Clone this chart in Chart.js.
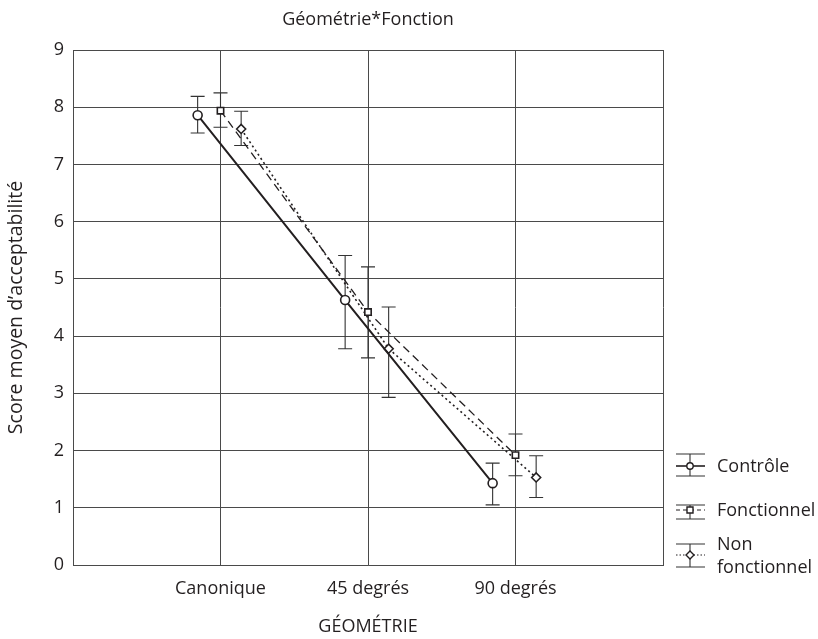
<!DOCTYPE html>
<html>
<head>
<meta charset="utf-8">
<script src="https://cdn.jsdelivr.net/npm/chart.js@4/dist/chart.umd.min.js"></script>
<style>
  html, body { margin: 0; padding: 0; background: #fff; }
  #wrap { width: 818px; height: 639px; }
</style>
</head>
<body>
<div id="wrap"><canvas id="c" width="818" height="639"></canvas></div>
<script>
// Catégories de géométrie et scores moyens (avec bornes des barres d'erreur)
const categories = ['Canonique', '45 degrés', '90 degrés'];
const seriesNames = ['Contrôle', 'Fonctionnel', 'Non fonctionnel'];

const controle = [7.86, 4.63, 1.43];
const controleHaut = [8.19, 5.41, 1.78];
const controleBas = [7.55, 3.78, 1.05];

const fonctionnel = [7.94, 4.42, 1.92];
const fonctionnelHaut = [8.25, 5.21, 2.29];
const fonctionnelBas = [7.65, 3.62, 1.56];

const nonFonctionnel = [7.62, 3.78, 1.53];
const nonFonctionnelHaut = [7.93, 4.51, 1.91];
const nonFonctionnelBas = [7.33, 2.93, 1.18];

const yTicks = [0, 1, 2, 3, 4, 5, 6, 7, 8, 9];

// Décalage horizontal de chaque série autour de sa catégorie
const shifts = [-0.155, 0, 0.14];

const INK = '#231f20';
const GRID = '#4a4a4a';
const FONT = '"Open Sans", "Noto Sans", sans-serif';
const FS = 18;

function pts(values, shift) {
  return values.map((v, i) => ({ x: i + 1 + shift, y: v }));
}

const errors = [
  { hi: controleHaut, lo: controleBas },
  { hi: fonctionnelHaut, lo: fonctionnelBas },
  { hi: nonFonctionnelHaut, lo: nonFonctionnelBas }
];

const styles = [
  { dash: [], width: 2, point: 'circle', radius: 4.5 },
  { dash: [8, 5], width: 1.3, point: 'rect', radius: 4.5 },
  { dash: [2, 3], width: 1.6, point: 'rectRot', radius: 4.5 }
];

const values = [controle, fonctionnel, nonFonctionnel];

const datasets = values.map((vals, k) => ({
  label: seriesNames[k],
  data: pts(vals, shifts[k]),
  borderColor: INK,
  borderWidth: styles[k].width,
  borderDash: styles[k].dash,
  pointStyle: styles[k].point,
  pointRadius: styles[k].radius,
  pointBackgroundColor: '#fff',
  pointBorderColor: INK,
  pointBorderWidth: 1.6,
  showLine: true,
  fill: false,
  tension: 0
}));

// Barres d'erreur, sous les points
const errorBars = {
  id: 'errorBars',
  beforeDatasetsDraw(chart) {
    const { ctx, scales: { x, y } } = chart;
    ctx.save();
    ctx.strokeStyle = '#333';
    ctx.lineWidth = 1.1;
    ctx.setLineDash([]);
    errors.forEach((e, k) => {
      e.hi.forEach((hi, i) => {
        const px = x.getPixelForValue(i + 1 + shifts[k]);
        const pHi = y.getPixelForValue(hi);
        const pLo = y.getPixelForValue(e.lo[i]);
        const cap = 7;
        ctx.beginPath();
        ctx.moveTo(px, pHi); ctx.lineTo(px, pLo);
        ctx.moveTo(px - cap, pHi); ctx.lineTo(px + cap, pHi);
        ctx.moveTo(px - cap, pLo); ctx.lineTo(px + cap, pLo);
        ctx.stroke();
      });
    });
    ctx.restore();
  }
};

// Titre centré sur la zone de tracé et légende à droite
const extras = {
  id: 'extras',
  afterDraw(chart) {
    const { ctx, chartArea } = chart;
    ctx.save();
    ctx.fillStyle = INK;
    ctx.font = FS + 'px ' + FONT;
    ctx.textAlign = 'center';
    ctx.textBaseline = 'middle';
    ctx.fillText('Géométrie*Fonction', (chartArea.left + chartArea.right) / 2, 20);

    const items = [
      { top: 454, mid: 466, bot: 476, lines: ['Contrôle'] },
      { top: 505, mid: 510, bot: 519, lines: ['Fonctionnel'] },
      { top: 544, mid: 555, bot: 567, lines: ['Non', 'fonctionnel'] }
    ];
    const x0 = 676, x1 = 705, xc = 690;
    items.forEach((it, k) => {
      ctx.strokeStyle = '#333';
      ctx.lineWidth = 1.1;
      ctx.setLineDash([]);
      ctx.beginPath();
      ctx.moveTo(x0, it.top); ctx.lineTo(x1, it.top);
      ctx.moveTo(x0, it.bot); ctx.lineTo(x1, it.bot);
      ctx.moveTo(xc, it.top); ctx.lineTo(xc, it.bot);
      ctx.stroke();
      ctx.strokeStyle = INK;
      ctx.lineWidth = k === 0 ? 1.6 : 1.2;
      ctx.setLineDash(k === 1 ? [4, 3] : k === 2 ? [1.5, 2] : []);
      ctx.beginPath();
      ctx.moveTo(x0, it.mid); ctx.lineTo(x1, it.mid);
      ctx.stroke();
      ctx.setLineDash([]);
      ctx.fillStyle = '#fff';
      ctx.strokeStyle = INK;
      ctx.lineWidth = 1.4;
      ctx.beginPath();
      if (k === 0) {
        ctx.arc(xc, it.mid, 3.2, 0, Math.PI * 2);
      } else if (k === 1) {
        ctx.rect(xc - 3, it.mid - 3, 6, 6);
      } else {
        ctx.moveTo(xc, it.mid - 4); ctx.lineTo(xc + 4, it.mid);
        ctx.lineTo(xc, it.mid + 4); ctx.lineTo(xc - 4, it.mid);
        ctx.closePath();
      }
      ctx.fill();
      ctx.stroke();
      ctx.fillStyle = INK;
      ctx.font = FS + 'px ' + FONT;
      ctx.textAlign = 'left';
      ctx.textBaseline = 'middle';
      if (it.lines.length === 1) {
        ctx.fillText(it.lines[0], 717, it.mid + 1);
      } else {
        ctx.fillText(it.lines[0], 717, 545);
        ctx.fillText(it.lines[1], 717, 568);
      }
    });
    ctx.restore();
  }
};

new Chart(document.getElementById('c'), {
  type: 'scatter',
  data: { datasets },
  options: {
    responsive: false,
    animation: false,
    layout: { padding: { top: 50, right: 155, left: 0, bottom: 0 } },
    plugins: { legend: { display: false }, tooltip: { enabled: false }, title: { display: false } },
    scales: {
      x: {
        type: 'linear',
        min: 0, max: 4,
        afterFit(s) { s.height = 74; },
        afterBuildTicks(s) { s.ticks = [0, 1, 2, 3, 4].map(v => ({ value: v })); },
        ticks: {
          color: INK,
          font: { size: FS, family: FONT },
          padding: 13,
          maxRotation: 0,
          callback: v => categories[v - 1] || ''
        },
        grid: { color: GRID, lineWidth: 1, drawTicks: false },
        border: { color: GRID, width: 1 },
        title: { display: true, text: 'GÉOMÉTRIE', color: INK, font: { size: FS, family: FONT }, padding: { top: 4, bottom: 1 } }
      },
      y: {
        min: 0, max: 9,
        afterFit(s) { s.width = 73; },
        afterBuildTicks(s) { s.ticks = yTicks.map(v => ({ value: v })); },
        ticks: { color: INK, font: { size: FS, family: FONT }, padding: 9 },
        grid: { color: GRID, lineWidth: 1, drawTicks: false },
        border: { color: GRID, width: 1 },
        title: { display: true, text: 'Score moyen d\u2019acceptabilité', color: INK, font: { size: 19.5, family: FONT }, padding: { top: 5, bottom: 4 } }
      }
    }
  },
  plugins: [errorBars, extras]
});
</script>
</body>
</html>
